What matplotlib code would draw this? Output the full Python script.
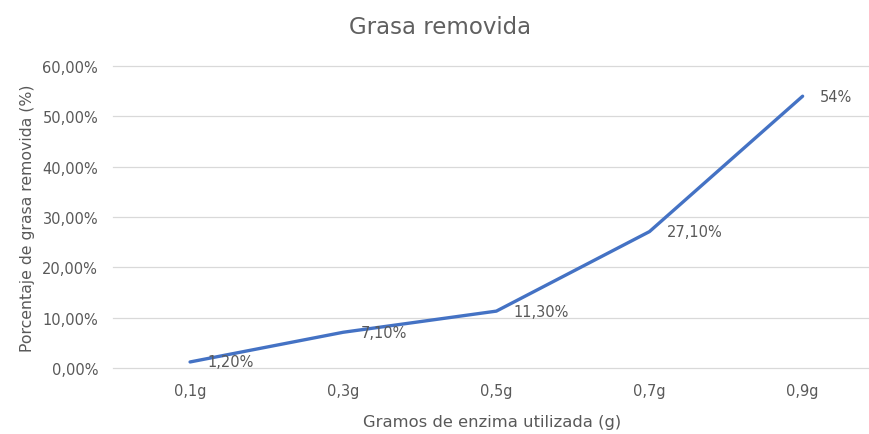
import matplotlib
matplotlib.use('Agg')
import matplotlib.pyplot as plt

# datos
gramos = ['0,1g', '0,3g', '0,5g', '0,7g', '0,9g']
grasa = [1.2, 7.1, 11.3, 27.1, 54.0]
etiquetas = ['1,20%', '7,10%', '11,30%', '27,10%', '54%']
yticks = [0, 10, 20, 30, 40, 50, 60]

plt.rcParams['font.family'] = ['DejaVu Sans']
gris = '#595959'

fig = plt.figure(figsize=(8.7, 4.35), dpi=100)
ax = fig.add_axes([113.5 / 870, 66 / 435, 756.5 / 870, 302 / 435])

x = list(range(len(gramos)))
ax.plot(x, grasa, color='#4472C4', linewidth=2.4, solid_capstyle='round', zorder=3)
for xi, yi, t in zip(x, grasa, etiquetas):
    ax.annotate(t, (xi, yi), xytext=(12.5, 0), textcoords='offset points',
                va='center', ha='left', fontsize=10.5, color=gris)

ax.set_xlim(-0.5, 4.44)
ax.set_ylim(0, 60)
ax.set_xticks(x)
ax.set_xticklabels(gramos)
ax.set_yticks(yticks)
ax.set_yticklabels(['%d,00%%' % v for v in yticks])
ax.grid(axis='y', color='#D9D9D9', linewidth=0.9)
for l in ax.get_ygridlines():
    l.set_clip_on(False)   # que se vea la linea del 0
ax.set_axisbelow(True)
for s in ax.spines.values():
    s.set_visible(False)
ax.tick_params(length=0, colors=gris, labelsize=10.5, pad=11)
ax.tick_params(axis='x', pad=11)

ax.set_xlabel('Gramos de enzima utilizada (g)', fontsize=11.8, color=gris, labelpad=11)
ax.set_ylabel('Porcentaje de grasa removida (%)', fontsize=11.3, color=gris, labelpad=5)
fig.text(0.506, 0.936, 'Grasa removida', ha='center', va='center', fontsize=16.5, color='#606060')

fig.savefig('out.png', dpi=100)
